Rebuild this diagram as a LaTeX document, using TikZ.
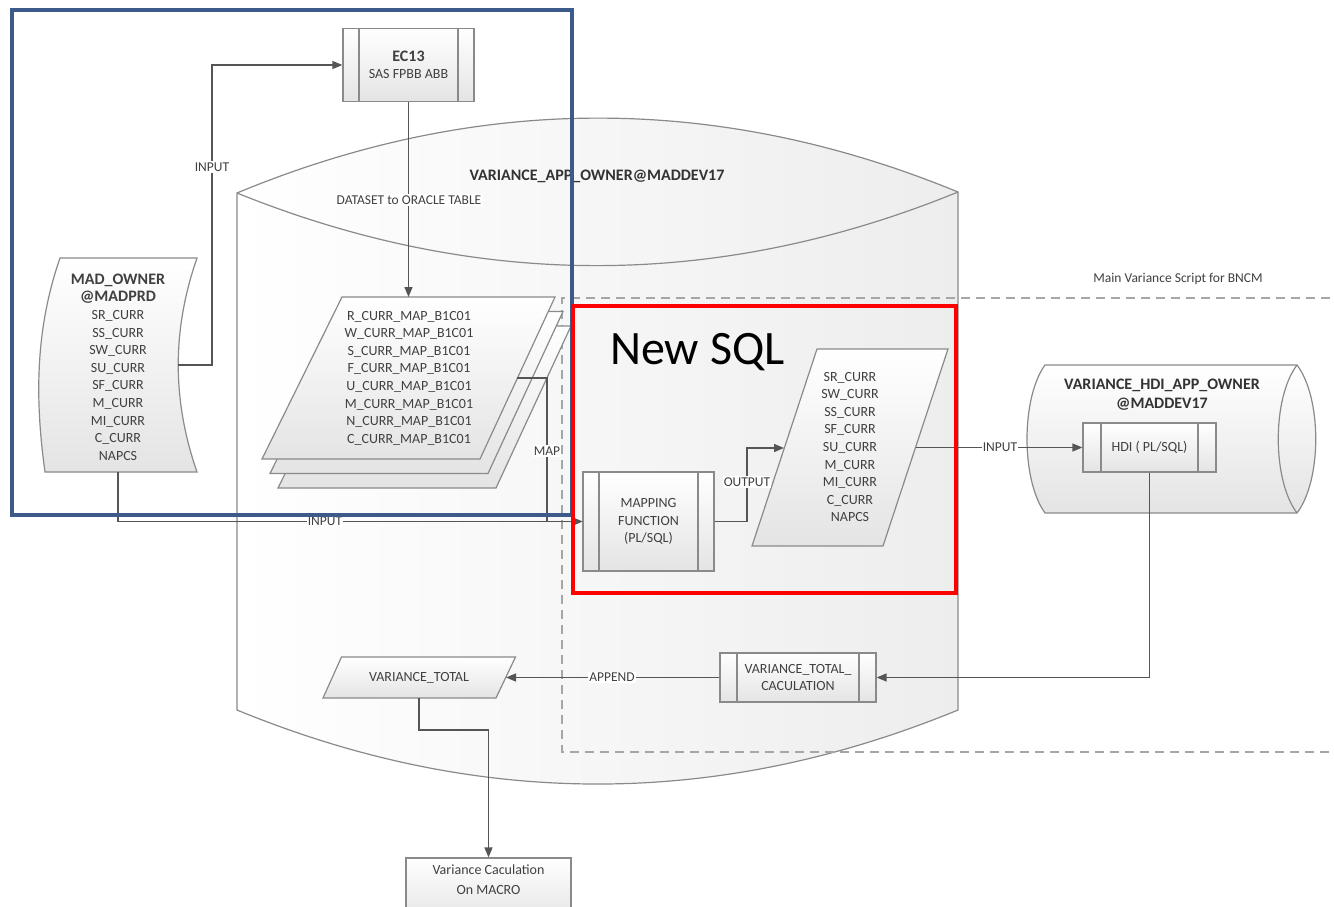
\documentclass[tikz,border=0pt]{standalone}
\usepackage{fontspec}
\setmainfont{Carlito}
\usetikzlibrary{arrows.meta,calc}
\definecolor{txt}{HTML}{404040}
\definecolor{txtB}{HTML}{333333}
\definecolor{ln}{HTML}{555555}
\definecolor{edge}{HTML}{8A8A8A}
\definecolor{fillB}{HTML}{E4E4E4}
\definecolor{bluebox}{HTML}{3D5B8A}
\definecolor{dashc}{HTML}{A6A6A6}
\begin{document}
\begin{tikzpicture}[x=1pt,y=-1pt,
  conn/.style={draw=ln,line width=1.4pt},
  arr/.style={-{Triangle[length=10pt,width=8pt]}},
  lbl/.style={font=\fontsize{13.5}{15}\selectfont,text=txt,fill=white,inner sep=1.2pt},
  shp/.style={draw=edge,line width=1.2pt,top color=white,bottom color=fillB},
  proc/.style={shp,rectangle,inner sep=0pt,align=center,text=txt,font=\fontsize{14}{17.6}\selectfont,
     path picture={\draw[edge,line width=1.2pt]
       ([xshift=#1]path picture bounding box.north west) -- ([xshift=#1]path picture bounding box.south west)
       ([xshift=-#1]path picture bounding box.north east) -- ([xshift=-#1]path picture bounding box.south east);}},
  body/.style={align=center,text=txt,font=\fontsize{14}{17.6}\selectfont,inner sep=0pt},
  ttl/.style={text=txtB,font=\fontsize{16}{19}\selectfont\bfseries,inner sep=0pt}
]
\useasboundingbox (0,0) rectangle (1334,907);
\clip (0,0) rectangle (1334,907);
\fill[white] (0,0) rectangle (1334,907);

% ---- big database cylinder
\path[draw=edge,line width=1.2pt,left color=white,right color=gray!14]
  (237,193) -- (237,710) .. controls (477,808.7) and (718,808.7) .. (958,710)
  -- (958,192) .. controls (718,93.3) and (477,93.3) .. (237,193) -- cycle;
\draw[edge,line width=1.2pt] (237,193) .. controls (477,290) and (718,290) .. (958,192);
\node[ttl] (cyltitle) at (597,176) {VARIANCE\_APP\_OWNER@MADDEV17};

% ---- dashed script region
\draw[dashc,line width=1.8pt,dash pattern=on 9pt off 6pt] (1345,298) -- (562,298) -- (562,752) -- (1345,752);
\node[text=txt,font=\fontsize{13.5}{15}\selectfont] (scriptlbl) at (1178,279) {Main Variance Script for BNCM};

% ---- right cylinder
\path[draw=edge,line width=1.2pt,top color=white,bottom color=fillB]
  (1045,365) -- (1297,365) .. controls (1322,398) and (1322,480) .. (1297,513)
  -- (1045,513) .. controls (1021,480) and (1021,398) .. (1045,365) -- cycle;
\draw[edge,line width=1.2pt] (1297,365) .. controls (1272,398) and (1272,480) .. (1297,513);
\node[ttl,align=center] (hdititle) at (1162,395) {VARIANCE\_HDI\_APP\_OWNER\\@MADDEV17};

% ---- MAD_OWNER data shape
\path[shp] (60,258) -- (197,258) .. controls (172,330) and (172,400) .. (197,472)
  -- (45,472) .. controls (35,400) and (35,330) .. (60,258) -- cycle;
\node[body] (mad) at (118,367) {{\fontsize{16}{17.6}\selectfont\bfseries MAD\_OWNER}\\{\fontsize{16}{17.6}\selectfont\bfseries @MADPRD}\\SR\_CURR\\SS\_CURR\\SW\_CURR\\SU\_CURR\\SF\_CURR\\M\_CURR\\MI\_CURR\\C\_CURR\\NAPCS};
\coordinate (madR) at (178,365);
\coordinate (madB) at (118,472);

% ---- EC13
\node[proc=16pt,minimum width=131pt,minimum height=73pt] (ec13) at (408.5,65)
  {{\fontsize{16}{18}\selectfont\bfseries EC13}\\SAS FPBB ABB};

% ---- stack of map tables
\foreach \k in {2,1,0}{
  \path[shp] ($(342,297)+(8*\k,14.5*\k)$) -- ($(555,297)+(8*\k,14.5*\k)$) -- ($(480,459)+(8*\k,14.5*\k)$) -- ($(262,459)+(8*\k,14.5*\k)$) -- cycle;
}
\node[body] (maps) at (409,378) {R\_CURR\_MAP\_B1C01\\W\_CURR\_MAP\_B1C01\\S\_CURR\_MAP\_B1C01\\F\_CURR\_MAP\_B1C01\\U\_CURR\_MAP\_B1C01\\M\_CURR\_MAP\_B1C01\\N\_CURR\_MAP\_B1C01\\C\_CURR\_MAP\_B1C01};
\coordinate (mapsTop) at (408.5,297);
\coordinate (mapsR) at (517,378);

% ---- mapping function
\node[proc=16pt,minimum width=131pt,minimum height=99pt] (mapfn) at (648.5,521.5) {MAPPING\\FUNCTION\\(PL/SQL)};

% ---- output tables
\path[shp] (817,349) -- (948,349) -- (883,546) -- (752,546) -- cycle;
\node[body] (outtab) at (850,447) {SR\_CURR\\SW\_CURR\\SS\_CURR\\SF\_CURR\\SU\_CURR\\M\_CURR\\MI\_CURR\\C\_CURR\\NAPCS};
\coordinate (outL) at (784,448);
\coordinate (outR) at (916,447.5);

% ---- HDI
\node[proc=18pt,minimum width=133pt,minimum height=49pt] (hdi) at (1149.5,447.5) {HDI ( PL/SQL)};

% ---- variance total calculation
\node[proc=17pt,minimum width=156pt,minimum height=49pt] (vtc) at (798,677.5) {VARIANCE\_TOTAL\_\\CACULATION};

% ---- variance total
\path[shp] (341.5,657) -- (515.5,657) -- (496,698) -- (323,698) -- cycle;
\node[body] (vt) at (419,677.5) {VARIANCE\_TOTAL};
\coordinate (vtR) at (506,677.5);
\coordinate (vtB) at (419,698);

% ---- macro box
\node[shp,rectangle,minimum width=165pt,minimum height=64pt,inner sep=0pt,align=center,text=txt,font=\fontsize{14}{20}\selectfont,text depth=20pt] (macro) at (488.5,890) {Variance Caculation\\On MACRO};

% ---- connectors
\draw[conn,arr] (madR) -- (212,365) |- (ec13.west);
\node[lbl] (l1) at (212,167) {INPUT};
\draw[conn,arr] (ec13.south) -- (mapsTop);
\node[lbl] (l2) at (409,200) {DATASET to ORACLE TABLE};
\draw[conn,arr] (mapsR) -- (547,378) |- (mapfn.west);
\node[lbl] (l3) at (547,451) {MAP};
\draw[conn,arr] (madB) |- (mapfn.west);
\node[lbl] (l4) at (325,521.5) {INPUT};
\draw[conn,arr] (mapfn.east) -- (747,521.5) |- (outL);
\node[lbl] (l5) at (747,482) {OUTPUT};
\draw[conn,arr] (outR) -- (hdi.west);
\node[lbl] (l6) at (1000,447.5) {INPUT};
\draw[conn,arr] (hdi.south) |- (vtc.east);
\draw[conn,arr] (vtc.west) -- (vtR);
\node[lbl] (l7) at (612,677.5) {APPEND};
\draw[conn,arr] (vtB) -- (419,730) -| (macro.north);

% ---- highlight frames
\draw[bluebox,line width=4pt] (12,10) rectangle (572,515);
\draw[red,line width=4.5pt] (573,306) rectangle (956,593);
\node[anchor=base west,inner sep=0pt,font=\fontsize{48}{50}\selectfont,text=black] (newsql) at (610,364) {New SQL};
\end{tikzpicture}
\end{document}
